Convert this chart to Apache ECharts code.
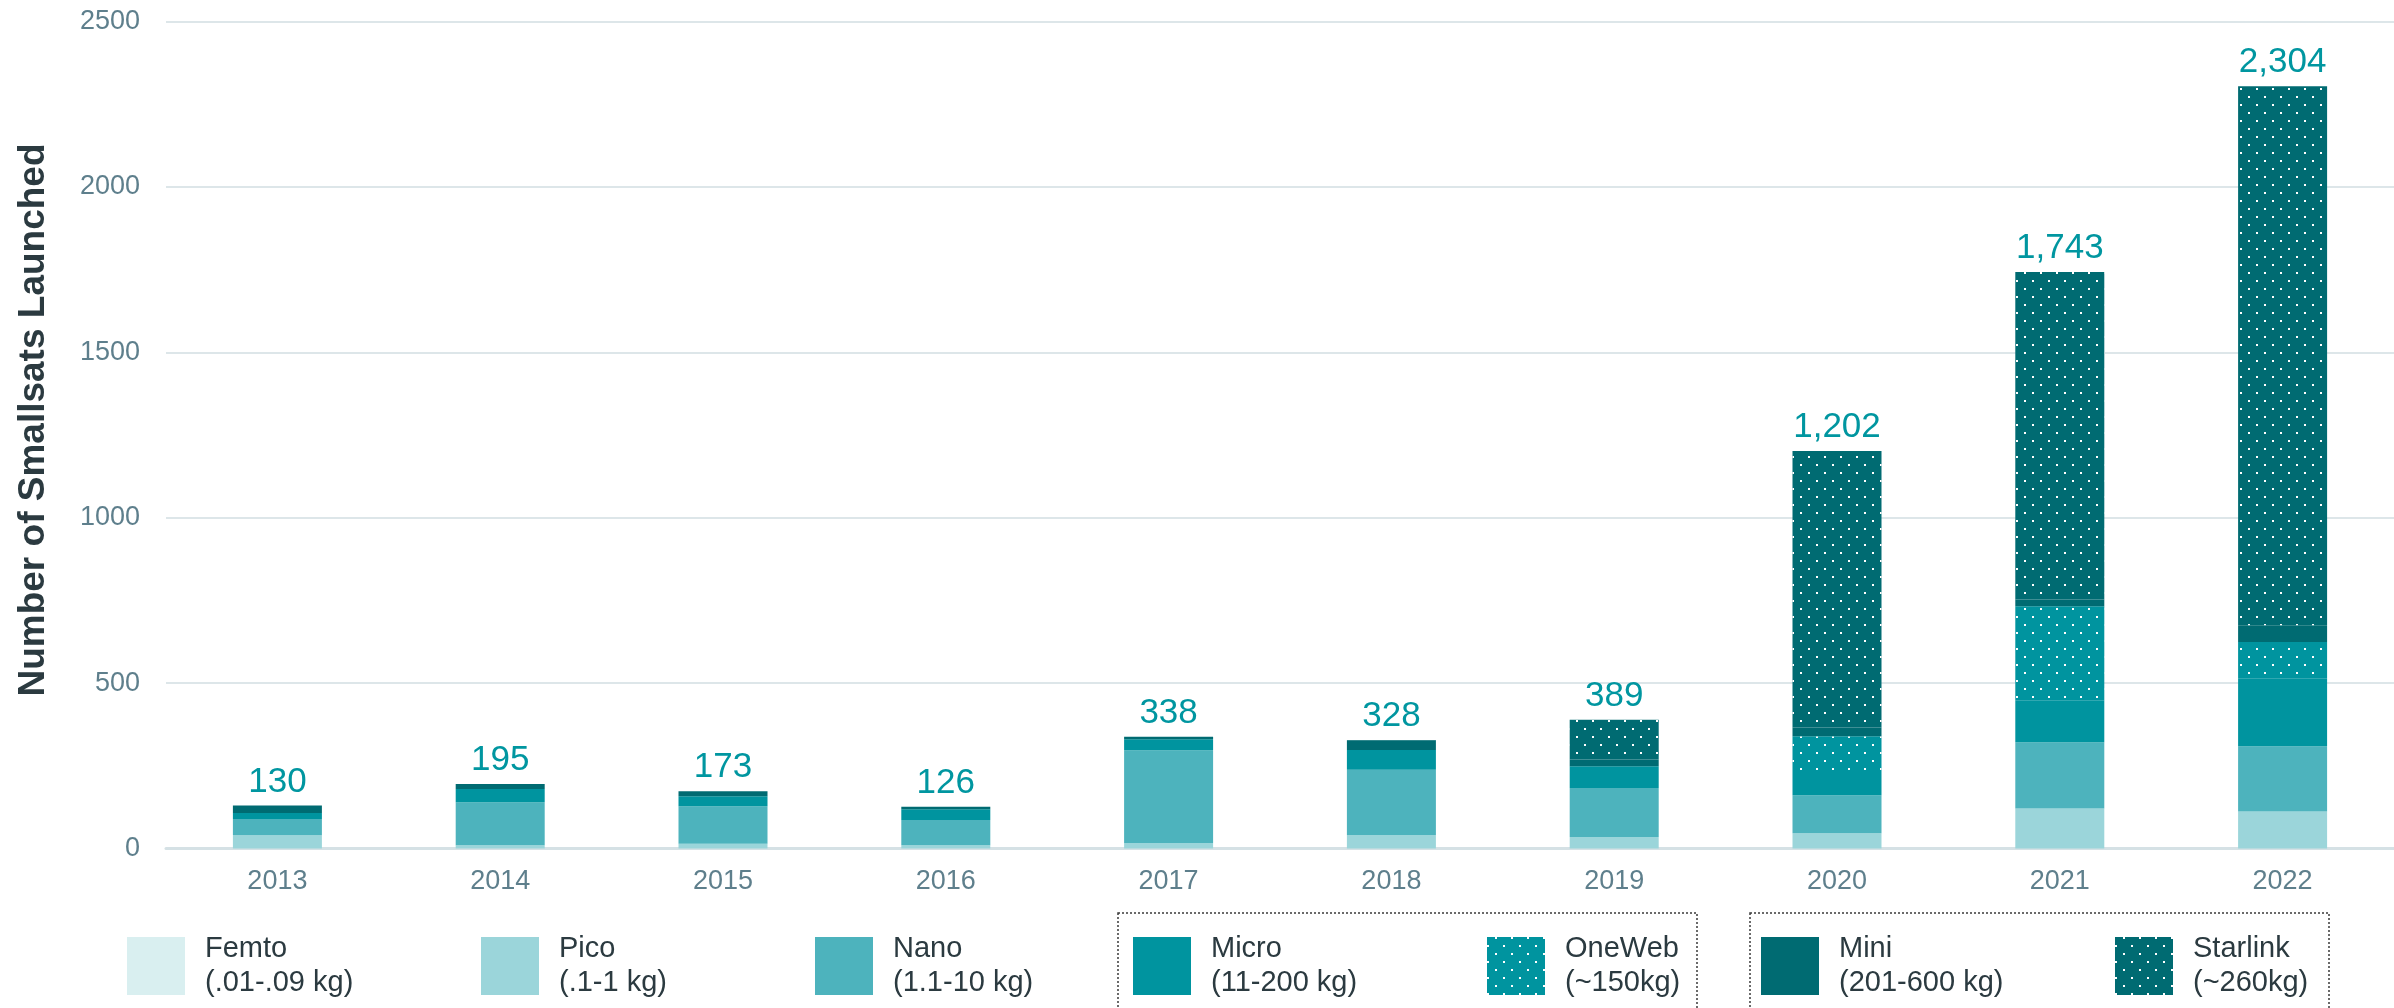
<!DOCTYPE html>
<html>
<head>
<meta charset="utf-8">
<script src="https://cdn.jsdelivr.net/npm/echarts@6/dist/echarts.min.js"></script>
<style>
html,body{margin:0;padding:0;background:#fff;}
#chart{width:2394px;height:1008px;}
</style>
</head>
<body>
<div id="chart"></div>
<script>
// ---- data ----
const years = ['2013','2014','2015','2016','2017','2018','2019','2020','2021','2022'];
const femto    = [0, 0, 0, 0, 0, 0, 0, 0, 0, 0];
const pico     = [40, 10, 14, 10, 17, 41, 35, 46, 121, 112];
const nano     = [49, 130, 114, 76, 280, 197, 148, 115, 200, 197];
const micro    = [18, 40, 30, 33, 33, 60, 60, 76, 127, 204];
const oneweb   = [0, 0, 0, 0, 0, 0, 6, 102, 284, 111];
const mini     = [23, 15, 15, 7, 8, 28, 20, 27, 21, 51];
const starlink = [0, 0, 0, 0, 0, 2, 120, 836, 990, 1629];
const yTicks = [0, 500, 1000, 1500, 2000, 2500];
const seriesNames = ['Femto','Pico','Nano','Micro','OneWeb','Mini','Starlink'];
const seriesRanges = ['(.01-.09 kg)','(.1-1 kg)','(1.1-10 kg)','(11-200 kg)','(~150kg)','(201-600 kg)','(~260kg)'];

// ---- styling ----
const FONT = 'Liberation Sans, Arial, Helvetica, sans-serif';
const colors = {
  Femto: '#d9eff0', Pico: '#9bd5da', Nano: '#4db3bd', Micro: '#00949f',
  OneWeb: '#00949f', Mini: '#006b72', Starlink: '#006b72'
};
const dotDecal = {
  symbol: 'rect',
  symbolSize: 1,
  color: '#ffffff',
  dashArrayX: [[2, 14], [0, 8, 2, 6]],
  dashArrayY: [2, 6]
};
const valuesByName = {Femto: femto, Pico: pico, Nano: nano, Micro: micro, OneWeb: oneweb, Mini: mini, Starlink: starlink};
const totals = years.map((_, i) => seriesNames.reduce((s, n) => s + valuesByName[n][i], 0));

const series = seriesNames.map(n => {
  const dotted = (n === 'OneWeb' || n === 'Starlink');
  return {
    name: n,
    type: 'bar',
    stack: 'sats',
    barWidth: 89,
    data: valuesByName[n],
    itemStyle: Object.assign({color: colors[n]}, dotted ? {decal: dotDecal} : {}),
    emphasis: {disabled: true}
  };
});
series.push({
  name: 'Total',
  type: 'bar',
  stack: 'sats',
  barWidth: 89,
  data: years.map(() => 0),
  itemStyle: {color: 'rgba(0,0,0,0)'},
  label: {
    show: true,
    position: 'top',
    distance: 6,
    fontFamily: FONT,
    fontSize: 35,
    color: '#0096a0',
    formatter: p => totals[p.dataIndex].toLocaleString('en-US')
  },
  emphasis: {disabled: true}
});

const legendX = [127, 481, 815, 1133, 1487, 1761, 2115];
const legends = seriesNames.map((n, i) => ({
  data: [n],
  left: legendX[i],
  top: 932,
  orient: 'horizontal',
  icon: 'rect',
  itemWidth: 58,
  itemHeight: 58,
  padding: 0,
  selectedMode: false,
  formatter: name => name + '\n' + seriesRanges[seriesNames.indexOf(name)],
  textStyle: {
    fontFamily: FONT,
    fontSize: 29,
    lineHeight: 34,
    color: '#2b3a40',
    padding: [0, 0, 0, 15]
  },
  itemStyle: {borderWidth: 0}
}));

const chart = echarts.init(document.getElementById('chart'), null, {renderer: 'canvas'});
chart.setOption({
  animation: false,
  backgroundColor: '#ffffff',
  grid: {left: 166, right: 0, top: 21.5, bottom: 159.5, containLabel: false},
  legend: legends,
  xAxis: {
    type: 'category',
    data: years,
    axisTick: {show: false},
    axisLine: {lineStyle: {color: '#d5e1e5', width: 3}},
    axisLabel: {fontFamily: FONT, fontSize: 27, color: '#5e7f8c', margin: 20}
  },
  yAxis: {
    type: 'value',
    min: yTicks[0],
    max: yTicks[yTicks.length - 1],
    interval: 500,
    name: 'Number of Smallsats Launched',
    nameLocation: 'middle',
    nameGap: 114,
    nameTextStyle: {fontFamily: FONT, fontSize: 37, fontWeight: 'bold', color: '#2b3a40', padding: [0, 0, 0, 30]},
    axisLine: {show: false},
    axisTick: {show: false},
    axisLabel: {fontFamily: FONT, fontSize: 27, color: '#5e7f8c', margin: 26, formatter: v => String(v)},
    splitLine: {lineStyle: {color: '#dde6e9', width: 2}}
  },
  graphic: [
    {type: 'rect', shape: {x: 1118, y: 913, width: 579, height: 120},
     style: {fill: 'none', stroke: '#3a3a3a', lineWidth: 1.5, lineDash: [2, 2]}, silent: true},
    {type: 'rect', shape: {x: 1750, y: 913, width: 579, height: 120},
     style: {fill: 'none', stroke: '#3a3a3a', lineWidth: 1.5, lineDash: [2, 2]}, silent: true}
  ],
  series: series
});
</script>
</body>
</html>
